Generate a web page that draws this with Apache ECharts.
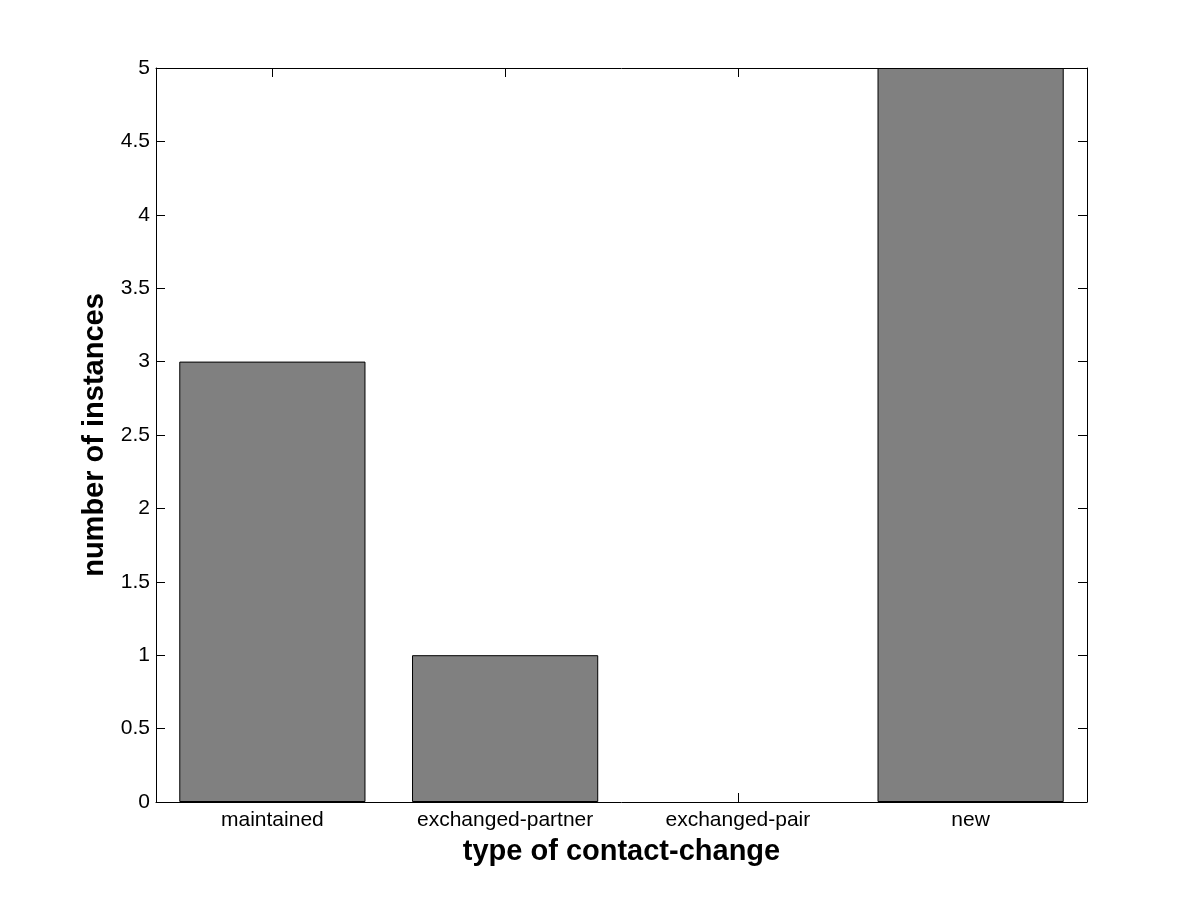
<!DOCTYPE html>
<html>
<head>
<meta charset="utf-8">
<script src="https://cdn.jsdelivr.net/npm/echarts@6/dist/echarts.min.js"></script>
<style>html,body{margin:0;padding:0;background:#fff;}#c{width:1201px;height:901px;}</style>
</head>
<body>
<div id="c"></div>
<script>
const categories = ['maintained', 'exchanged-partner', 'exchanged-pair', 'new'];
const counts = [3, 1, 0, 5];
const xTitle = 'type of contact-change';
const yTitle = 'number of instances';

const font = '"Liberation Sans", Arial, sans-serif';
const chart = echarts.init(document.getElementById('c'), null, {renderer: 'canvas'});
const axisLine = {show: true, onZero: false, lineStyle: {color: '#000', width: 1}};
const tick = {show: true, inside: true, length: 9, lineStyle: {color: '#000', width: 1}};
chart.setOption({
  animation: false,
  backgroundColor: '#fff',
  grid: {left: 156, right: 114, top: 68, bottom: 99, containLabel: false},
  xAxis: [{
    type: 'category', data: categories, position: 'bottom',
    axisLine: axisLine, axisTick: Object.assign({alignWithLabel: true}, tick),
    axisLabel: {color: '#000', fontFamily: font, fontSize: 21, margin: 8},
    name: xTitle, nameLocation: 'middle', nameGap: 35,
    nameTextStyle: {color: '#000', fontFamily: font, fontSize: 29, fontWeight: 'bold'},
    splitLine: {show: false}
  }, {
    type: 'category', data: categories, position: 'top',
    axisLine: axisLine, axisTick: Object.assign({alignWithLabel: true}, tick),
    axisLabel: {show: false}, splitLine: {show: false}
  }],
  yAxis: [{
    type: 'value', min: 0, max: 5, interval: 0.5, position: 'left',
    axisLine: axisLine, axisTick: tick,
    axisLabel: {color: '#000', fontFamily: font, fontSize: 21, margin: 6},
    name: yTitle, nameLocation: 'middle', nameGap: 47, nameRotate: 90,
    nameTextStyle: {color: '#000', fontFamily: font, fontSize: 29, fontWeight: 'bold'},
    splitLine: {show: false}
  }, {
    type: 'value', min: 0, max: 5, interval: 0.5, position: 'right',
    axisLine: axisLine, axisTick: tick, axisLabel: {show: false}, splitLine: {show: false}
  }],
  series: [{
    type: 'bar', xAxisIndex: 0, yAxisIndex: 0,
    data: counts.map(v => v === 0 ? {value: v, itemStyle: {borderWidth: 0}} : v),
    barCategoryGap: '20%',
    itemStyle: {color: '#808080', borderColor: '#000', borderWidth: 1}
  }]
});
</script>
</body>
</html>
